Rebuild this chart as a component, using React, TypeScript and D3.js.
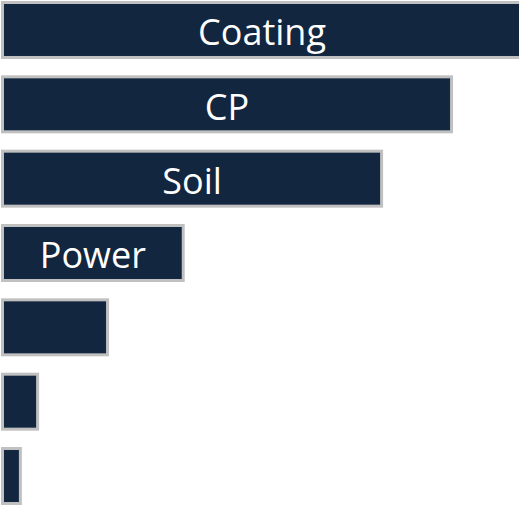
import React from "react";
import * as d3 from "d3";

const categories: string[] = ["Coating", "CP", "Soil", "Power", "", "", ""];
const values: number[] = [100, 86.6, 73.2, 35.2, 20.7, 7.3, 4.0];

const W = 519;
const H = 505;

export default function App() {
  const x = d3.scaleLinear().domain([0, 100]).range([0, 522]);
  const y = d3
    .scaleBand<number>()
    .domain(d3.range(values.length))
    .range([1, 505])
    .paddingInner(0.22)
    .paddingOuter(0);
  const bw = y.bandwidth();
  const sw = 3;
  const fs = 36;
  return (
    <svg
      width={W}
      height={H}
      style={{ position: "absolute", left: 0, top: 0, background: "#fff" }}
    >
      {values.map((v, i) => {
        const top = y(i) as number;
        const w = x(v);
        return (
          <g key={i}>
            <rect
              x={1 + sw / 2}
              y={top + sw / 2}
              width={w - sw}
              height={bw - sw}
              fill="#12263f"
              stroke="#c0c0c0"
              strokeWidth={sw}
            />
            {categories[i] ? (
              <text
                x={1 + w / 2}
                y={top + bw / 2 + fs * 0.43}
                textAnchor="middle"
                fill="#ffffff"
                fontFamily="'Open Sans', sans-serif"
                fontSize={fs}
              >
                {categories[i]}
              </text>
            ) : null}
          </g>
        );
      })}
    </svg>
  );
}
